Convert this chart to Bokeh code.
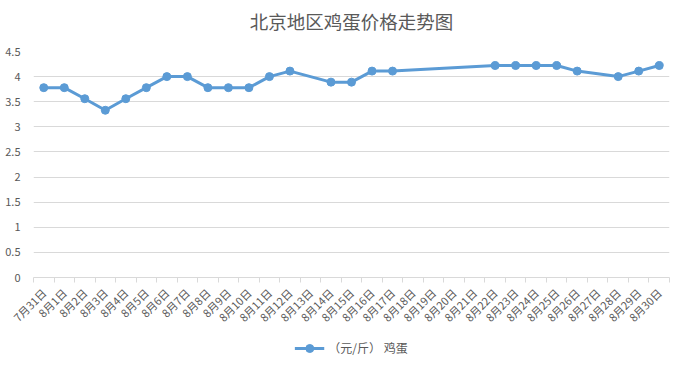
from bokeh.plotting import figure
from bokeh.layouts import column
from bokeh.models import Range1d, FixedTicker, Legend, LegendItem, ColumnDataSource
from bokeh.core.properties import value
from bokeh.embed import file_html
from bokeh.resources import INLINE
import math

categories = ["7月31日", "8月1日", "8月2日", "8月3日", "8月4日", "8月5日", "8月6日", "8月7日",
              "8月8日", "8月9日", "8月10日", "8月11日", "8月12日", "8月13日", "8月14日", "8月15日",
              "8月16日", "8月17日", "8月18日", "8月19日", "8月20日", "8月21日", "8月22日", "8月23日",
              "8月24日", "8月25日", "8月26日", "8月27日", "8月28日", "8月29日", "8月30日"]

dates = ["7月31日", "8月1日", "8月2日", "8月3日", "8月4日", "8月5日", "8月6日", "8月7日",
         "8月8日", "8月9日", "8月10日", "8月11日", "8月12日", "8月14日", "8月15日", "8月16日",
         "8月17日", "8月22日", "8月23日", "8月24日", "8月25日", "8月26日", "8月28日", "8月29日",
         "8月30日"]
prices = [3.78, 3.78, 3.56, 3.33, 3.56, 3.78, 4.00, 4.00, 3.78, 3.78, 3.78, 4.00, 4.11,
          3.89, 3.89, 4.11, 4.11, 4.22, 4.22, 4.22, 4.22, 4.11, 4.00, 4.11, 4.22]
y_ticks = [0, 0.5, 1, 1.5, 2, 2.5, 3, 3.5, 4, 4.5]

series_name = "（元/斤） 鸡蛋"
title_text = "北京地区鸡蛋价格走势图"

FONT = "Noto Sans CJK SC"
TXT = "#595959"
GRID = "#d9d9d9"
BLUE = "#5b9bd5"
W = 681

src = ColumnDataSource(dict(x=[categories.index(d) for d in dates], y=prices))

# ---- title strip ----
tf = figure(width=W, height=40, output_backend="svg", toolbar_location=None,
            x_axis_type=None, y_axis_type=None, x_range=Range1d(0, 1), y_range=Range1d(0, 1),
            min_border=0)
tf.outline_line_color = None
tf.grid.visible = False
tf.text(x=[0.5], y=[0.5], text=[title_text], text_align="center", text_baseline="middle",
        text_font=value(FONT), text_font_size="18.5px", text_color=TXT)

# ---- main chart ----
p = figure(width=W, height=295, output_backend="svg", toolbar_location=None,
           x_range=Range1d(-0.5, len(categories) - 0.5), y_range=Range1d(0, 4.5),
           min_border_left=33, min_border_right=12, min_border_top=11, min_border_bottom=58)
p.outline_line_color = None
p.xgrid.visible = False
p.ygrid.grid_line_color = GRID
p.ygrid.ticker = FixedTicker(ticks=y_ticks)

ya = p.yaxis[0]
ya.ticker = FixedTicker(ticks=y_ticks)
ya.major_label_overrides = {t: (str(int(t)) if float(t).is_integer() else str(t)) for t in y_ticks}
ya.axis_line_color = None
ya.major_tick_line_color = None
ya.minor_tick_line_color = None
ya.major_label_text_font = FONT
ya.major_label_text_font_size = "11px"
ya.major_label_text_color = TXT
ya.major_label_standoff = 7

xa = p.xaxis[0]
xa.ticker = FixedTicker(ticks=list(range(len(categories))),
                        minor_ticks=[i - 0.5 for i in range(len(categories) + 1)])
xa.major_label_overrides = {i: c for i, c in enumerate(categories)}
xa.major_label_orientation = math.pi / 4
xa.axis_line_color = GRID
xa.major_tick_line_color = None
xa.major_tick_out = 5
xa.major_tick_in = 0
xa.minor_tick_line_color = GRID
xa.minor_tick_out = 5
xa.minor_tick_in = 0
xa.major_label_text_font = FONT
xa.major_label_text_font_size = "11px"
xa.major_label_text_color = TXT
xa.major_label_standoff = 8

p.line("x", "y", source=src, line_color=BLUE, line_width=3)
p.scatter("x", "y", source=src, size=8, fill_color=BLUE, line_color=BLUE)

# ---- legend strip (same series drawn out of view, only its legend shows) ----
lg = figure(width=W, height=25, output_backend="svg", toolbar_location=None,
            x_axis_type=None, y_axis_type=None,
            x_range=Range1d(-0.5, len(categories) - 0.5), y_range=Range1d(-2, -1),
            min_border=0)
lg.outline_line_color = None
lg.grid.visible = False
lln = lg.line("x", "y", source=src, line_color=BLUE, line_width=3)
lsc = lg.scatter("x", "y", source=src, size=8, fill_color=BLUE, line_color=BLUE)
legend = Legend(items=[LegendItem(label=series_name, renderers=[lln, lsc])],
                orientation="horizontal", location="center",
                border_line_color=None, background_fill_alpha=0,
                label_text_font=FONT, label_text_font_size="12px", label_text_color=TXT,
                glyph_width=30, margin=0, padding=2, label_standoff=4)
lg.add_layout(legend)

page = column(tf, p, lg, spacing=0)
open("out.html", "w").write(file_html(page, INLINE))
